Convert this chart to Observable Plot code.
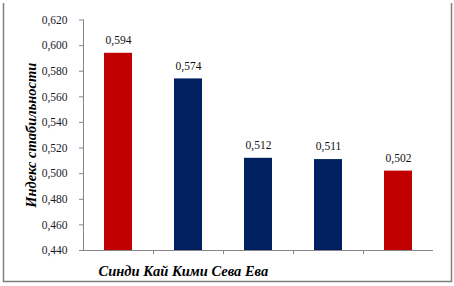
<!DOCTYPE html>
<html><head><meta charset="utf-8">
<script src="https://cdn.jsdelivr.net/npm/d3@7"></script>
<script src="https://cdn.jsdelivr.net/npm/@observablehq/plot@0.6"></script>
<style>body{margin:0;background:#fff}</style>
</head><body><div id="chart"></div>
<script>
const categories = ["Синди", "Кай", "Кими", "Сева", "Ева"];
const values = [0.594, 0.574, 0.512, 0.511, 0.502];
const colors = ["#C00000", "#002060", "#002060", "#002060", "#C00000"];
const yTicks = [0.44, 0.46, 0.48, 0.50, 0.52, 0.54, 0.56, 0.58, 0.60, 0.62];
const yLabel = "Индекс стабильности";

const data = categories.map((c, i) => ({name: c, value: values[i], color: colors[i]}));
const fmt = v => v.toFixed(3).replace(".", ",");
const serif = "'Liberation Serif', 'Times New Roman', serif";

const chart = Plot.plot({
  width: 454, height: 286,
  marginLeft: 83, marginRight: 21, marginTop: 19.5, marginBottom: 36,
  style: {fontFamily: serif, background: "#fff"},
  x: {domain: categories, paddingInner: 0.6, paddingOuter: 0.3, axis: null},
  y: {domain: [0.44, 0.62], axis: null},
  marks: [
    Plot.axisY({ticks: yTicks, tickFormat: fmt, tickSize: 4, tickPadding: 12, stroke: "#868686", fill: "#1a1a2a", fontSize: 11.5, label: null}),
    Plot.barY(data, {x: "name", y1: 0.44, y2: "value", fill: "color"}),
    Plot.text(data, {x: "name", y: "value", text: d => fmt(d.value), dy: -13, fontSize: 11.5, fill: "#111", fontFamily: serif}),
    Plot.ruleY([0.44], {stroke: "#868686"}),
    Plot.ruleX([categories[0]], {x: d => d, dx: -35, y1: 0.44, y2: 0.62, stroke: "#868686"}),
    Plot.ruleX(categories.slice(1), {x: d => d, dx: -35, y1: 0.44, y2: 0.44 - 4/1280, stroke: "#868686"}),
    Plot.text([categories.join(" ")], {frameAnchor: "bottom-left", dx: 15, dy: 25, text: d => d, fontSize: 14.5, fontWeight: "bold", fontStyle: "italic", fill: "#000", textAnchor: "start"}),
    Plot.text([yLabel], {frameAnchor: "left", dx: -52, dy: 0, text: d => d, rotate: -90, textAnchor: "middle", fontSize: 14.5, fontWeight: "bold", fontStyle: "italic", fill: "#000"})
  ]
});

const svg = d3.select(chart);
const border = svg.append("g").attr("stroke", "#7f7f7f").attr("stroke-width", 1.5).attr("fill", "none");
border.append("path").attr("d", "M3.5,3V281.5H451.5V3");
document.getElementById("chart").appendChild(chart);
</script>
</body></html>
